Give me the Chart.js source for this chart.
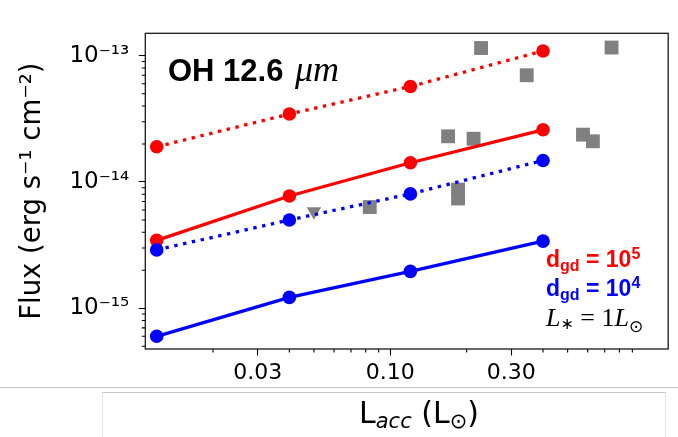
<!DOCTYPE html>
<html><head><meta charset="utf-8">
<script src="https://cdn.jsdelivr.net/npm/chart.js@4.4.1/dist/chart.umd.min.js"></script>
<style>
html,body{margin:0;padding:0;background:#fff;overflow:hidden;}
#wrap{position:relative;width:678px;height:437px;}
canvas{position:absolute;left:0;top:0;}
#hline{position:absolute;left:0;top:387px;width:678px;height:1px;background:#c9c9c9;}
#xbox{position:absolute;left:102px;top:392px;width:564px;height:50px;border-top:1px solid #c6c6c6;border-left:1px solid #e2e2e2;border-right:1px solid #e2e2e2;box-sizing:border-box;}
#xtitle{position:absolute;left:359px;top:398px;font-family:"DejaVu Sans";font-size:30px;line-height:30px;white-space:nowrap;color:#000;}
#xtitle .s{font-size:21px;vertical-align:-5px;}
</style></head>
<body><div id="wrap"><canvas id="c" width="678" height="437"></canvas>
<div id="hline"></div><div id="xbox"></div>
<div id="xtitle">L<span class="s" style="font-style:italic">acc</span> (L<span class="s">⊙</span>)</div></div>
<script>
// ---- data ----
const lacc = [0.012, 0.04, 0.12, 0.4];
const fluxD5Dotted = [1.9e-14, 3.45e-14, 5.7e-14, 1.09e-13];
const fluxD5Solid  = [3.45e-15, 7.75e-15, 1.42e-14, 2.59e-14];
const fluxD4Dotted = [2.9e-15, 5.0e-15, 8.05e-15, 1.48e-14];
const fluxD4Solid  = [6.0e-16, 1.22e-15, 1.96e-15, 3.4e-15];
const obsLacc = [0.228, 0.345, 0.745, 0.169, 0.213, 0.575, 0.629, 0.083, 0.185, 0.185];
const obsFlux = [1.15e-13, 7.0e-14, 1.16e-13, 2.30e-14, 2.20e-14, 2.37e-14, 2.10e-14, 6.33e-15, 8.7e-15, 7.4e-15];
const ulLacc = [0.050];
const ulFlux = [5.85e-15];
const xMajorTicks = [0.03, 0.1, 0.3];
const xTickLabels = ['0.03', '0.10', '0.30'];
const xMinorTicks = [0.02, 0.04, 0.05, 0.06, 0.07, 0.08, 0.09, 0.2, 0.4, 0.5, 0.6, 0.7, 0.8, 0.9];
const yMajorTicks = [1e-15, 1e-14, 1e-13];
const yTickLabels = ['10⁻¹⁵', '10⁻¹⁴', '10⁻¹³'];
const yMinorTicks = [5e-16, 6e-16, 7e-16, 8e-16, 9e-16,
  2e-15, 3e-15, 4e-15, 5e-15, 6e-15, 7e-15, 8e-15, 9e-15,
  2e-14, 3e-14, 4e-14, 5e-14, 6e-14, 7e-14, 8e-14, 9e-14];
const xRange = [0.01082, 1.246];
const yRange = [4.76e-16, 1.504e-13];

function idxOf(v, arr) {
  for (let i = 0; i < arr.length; i++) if (Math.abs(Math.log10(v / arr[i])) < 1e-6) return i;
  return -1;
}
function pts(xs, ys) { return xs.map((x, i) => ({x: x, y: ys[i]})); }

const RED = '#ff0000', BLUE = '#0000ff', GRAY = '#808080';
const LW = 3.3, DOT = [3.4, 5.6], PR = 6.8;
function lineDs(ys, color, dashed, order) {
  return {data: pts(lacc, ys), borderColor: color, backgroundColor: color, borderWidth: LW,
    borderDash: dashed ? DOT : [], borderCapStyle: 'butt', pointRadius: PR, pointHoverRadius: PR,
    pointBackgroundColor: color, pointBorderWidth: 0, tension: 0, order: order, clip: false};
}

function drawRuns(ctx, x, y, runs) {
  let cx = x;
  for (const r of runs) {
    ctx.font = r.f; ctx.fillStyle = r.c;
    ctx.fillText(r.t, cx, y + (r.dy || 0));
    cx += ctx.measureText(r.t).width;
  }
}

const decor = {
  id: 'decor',
  afterDraw(chart) {
    const {ctx, chartArea: a} = chart;
    const xs = chart.scales.x, ys = chart.scales.y;
    ctx.save();
    ctx.strokeStyle = '#000'; ctx.lineWidth = 1.1;
    ctx.beginPath();
    xMinorTicks.forEach(v => { const px = xs.getPixelForValue(v); ctx.moveTo(px, a.bottom); ctx.lineTo(px, a.bottom + 3.5); });
    yMinorTicks.forEach(v => { const py = ys.getPixelForValue(v); ctx.moveTo(a.left, py); ctx.lineTo(a.left - 3.5, py); });
    ctx.stroke();
    ctx.lineWidth = 1.3; ctx.strokeStyle = '#1a1a1a';
    ctx.strokeRect(a.left, a.top, a.right - a.left, a.bottom - a.top);
    ctx.textBaseline = 'alphabetic'; ctx.textAlign = 'left';
    // panel title
    ctx.fillStyle = '#000';
    ctx.font = 'bold 31px "Liberation Sans"';
    ctx.fillText('OH 12.6', 168, 81);
    ctx.font = 'italic 36px "Liberation Serif"';
    ctx.fillText('μm', 295, 81);
    // key
    const B = 'bold 23px "Liberation Sans"', BS = 'bold 16px "Liberation Sans"';
    drawRuns(ctx, 546, 267, [{t: 'd', f: B, c: RED}, {t: 'gd', f: BS, c: RED, dy: 4},
      {t: ' = 10', f: B, c: RED}, {t: '5', f: BS, c: RED, dy: -8}]);
    drawRuns(ctx, 546, 296, [{t: 'd', f: B, c: BLUE}, {t: 'gd', f: BS, c: BLUE, dy: 4},
      {t: ' = 10', f: B, c: BLUE}, {t: '4', f: BS, c: BLUE, dy: -8}]);
    const SI = 'italic 26px "Liberation Serif"', SR = '26px "Liberation Serif"';
    drawRuns(ctx, 546, 326, [{t: 'L', f: SI, c: '#000'}, {t: '∗', f: '16px "DejaVu Sans"', c: '#000', dy: 3},
      {t: ' = 1', f: SR, c: '#000'}, {t: 'L', f: SI, c: '#000'}, {t: '⊙', f: '17px "DejaVu Sans"', c: '#000', dy: 6}]);
    ctx.restore();
  }
};

new Chart(document.getElementById('c'), {
  type: 'line',
  data: {datasets: [
    lineDs(fluxD4Solid, BLUE, false, 1),
    lineDs(fluxD4Dotted, BLUE, true, 2),
    lineDs(fluxD5Solid, RED, false, 3),
    lineDs(fluxD5Dotted, RED, true, 4),
    {data: pts(obsLacc, obsFlux), showLine: false, pointStyle: 'rect', pointRadius: 9.8, pointHoverRadius: 9.8,
      pointBackgroundColor: GRAY, borderColor: GRAY, pointBorderWidth: 0, order: 5, clip: false},
    {data: pts(ulLacc, ulFlux), showLine: false, pointStyle: 'triangle', rotation: 180, pointRadius: 8.3, pointHoverRadius: 8.3,
      pointBackgroundColor: GRAY, borderColor: GRAY, pointBorderWidth: 0, order: 6, clip: false}
  ]},
  options: {
    responsive: false, animation: false, devicePixelRatio: 1,
    layout: {padding: {left: 0, top: 33.3, right: 1.4, bottom: 0}},
    plugins: {legend: {display: false}, tooltip: {enabled: false}},
    events: [],
    scales: {
      x: {
        type: 'logarithmic', min: xRange[0], max: xRange[1],
        border: {display: false},
        grid: {display: true, drawOnChartArea: false, drawTicks: true, tickLength: 6.5, tickWidth: 1.1,
          tickColor: c => (c.tick && idxOf(c.tick.value, xMajorTicks) >= 0) ? '#000' : 'rgba(0,0,0,0)'},
        afterBuildTicks: s => { s.ticks = xMajorTicks.concat(xMinorTicks).sort((a, b) => a - b).map(v => ({value: v, major: idxOf(v, xMajorTicks) >= 0})); },
        ticks: {autoSkip: false, maxRotation: 0, minRotation: 0, padding: 5, color: '#000',
          font: {family: 'DejaVu Sans', size: 22},
          callback: v => { const i = idxOf(v, xMajorTicks); return i >= 0 ? xTickLabels[i] : ''; }},
        afterFit: s => { s.height = 88; }
      },
      y: {
        type: 'logarithmic', min: yRange[0], max: yRange[1],
        border: {display: false},
        grid: {display: true, drawOnChartArea: false, drawTicks: true, tickLength: 6.5, tickWidth: 1.1,
          tickColor: c => (c.tick && idxOf(c.tick.value, yMajorTicks) >= 0) ? '#000' : 'rgba(0,0,0,0)'},
        afterBuildTicks: s => { s.ticks = yMajorTicks.concat(yMinorTicks).sort((a, b) => a - b).map(v => ({value: v, major: idxOf(v, yMajorTicks) >= 0})); },
        ticks: {autoSkip: false, padding: 9.5, color: '#000',
          font: {family: 'DejaVu Sans', size: 23},
          callback: v => { const i = idxOf(v, yMajorTicks); return i >= 0 ? yTickLabels[i] : ''; }},
        title: {display: true, text: 'Flux (erg s⁻¹ cm⁻²)', color: '#000',
          font: {family: 'DejaVu Sans', size: 27.5}, padding: {top: 16, bottom: 0}},
        afterFit: s => { s.width = 145.3; }
      }
    }
  },
  plugins: [decor]
});
</script></body></html>
